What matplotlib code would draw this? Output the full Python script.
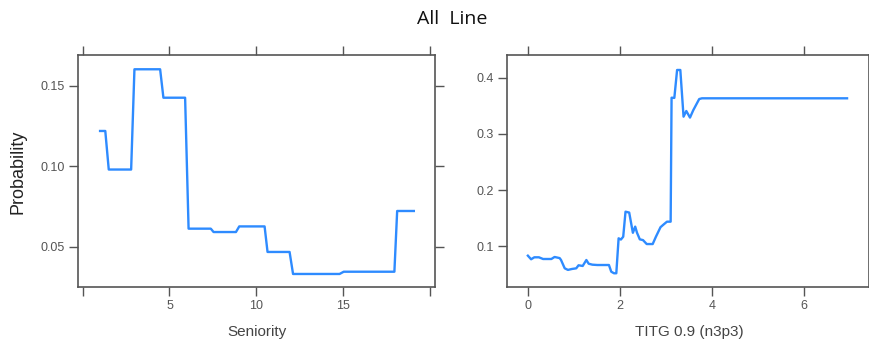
import matplotlib
matplotlib.use("Agg")
import matplotlib.pyplot as plt

# Seniority partial dependence
seniority = [1.0, 1.3, 1.5, 2.79, 2.98, 4.46, 4.65, 5.9, 6.1, 7.38, 7.54,
             8.83, 9.02, 10.48, 10.65, 11.92, 12.12, 14.8, 15.04, 17.96, 18.12, 19.08]
prob_sen = [0.122, 0.122, 0.098, 0.098, 0.1604, 0.1604, 0.1427, 0.1427, 0.0612, 0.0612, 0.0591,
            0.0591, 0.0626, 0.0626, 0.0467, 0.0467, 0.033, 0.033, 0.0344, 0.0344, 0.0722, 0.0722]

# TITG 0.9 (n3p3) partial dependence
titg = [0.0, 0.07, 0.14, 0.24, 0.33, 0.51, 0.58, 0.69, 0.72, 0.8, 0.87, 0.96, 1.05, 1.1,
        1.19, 1.27, 1.32, 1.4, 1.51, 1.76, 1.81, 1.87, 1.92, 1.97, 2.02, 2.07, 2.12, 2.2,
        2.28, 2.33, 2.37, 2.43, 2.5, 2.58, 2.71, 2.78, 2.88, 2.95, 3.02, 3.1, 3.12, 3.18,
        3.24, 3.31, 3.38, 3.44, 3.52, 3.59, 3.72, 3.78, 6.93]
prob_titg = [0.0833, 0.0769, 0.0804, 0.0804, 0.0774, 0.0774, 0.081, 0.079, 0.0756, 0.0608,
             0.058, 0.0597, 0.0608, 0.0662, 0.065, 0.0756, 0.069, 0.0673, 0.0667, 0.0667,
             0.0548, 0.052, 0.052, 0.1142, 0.112, 0.117, 0.1616, 0.160, 0.124, 0.135, 0.124,
             0.1124, 0.111, 0.104, 0.104, 0.117, 0.134, 0.139, 0.1438, 0.1438, 0.3644, 0.364,
             0.4137, 0.4137, 0.3306, 0.3407, 0.329, 0.342, 0.362, 0.3633, 0.3633]

FRAME = "#555555"
LINE = "#2e8bff"

fig = plt.figure(figsize=(8.7, 3.41), dpi=100)
ax1 = fig.add_axes([0.0897, 0.1584, 0.4103, 0.6804])
ax2 = fig.add_axes([0.5824, 0.1584, 0.4161, 0.6804])

for ax in (ax1, ax2):
    for s in ax.spines.values():
        s.set_color(FRAME)
        s.set_linewidth(1.2)
    ax.tick_params(direction="out", length=6.5, width=1, color=FRAME, pad=3,
                   labelsize=9, labelcolor="#555555",
                   top=True, right=True, labeltop=False, labelright=False)
    for lab in ax.get_xticklabels() + ax.get_yticklabels():
        lab.set_family("Liberation Sans")

ax1.plot(seniority, prob_sen, color=LINE, lw=1.7)
ax1.set_xlim(-0.27, 20.3)
ax1.set_ylim(0.0249, 0.1693)
ax1.set_xticks([0, 5, 10, 15, 20])
ax1.set_xticklabels(["", "5", "10", "15", ""], family="Liberation Sans")
ax1.set_yticks([0.05, 0.10, 0.15])
ax1.set_yticklabels(["0.05", "0.10", "0.15"], family="Liberation Sans")

ax2.plot(titg, prob_titg, color=LINE, lw=1.7)
ax2.set_xlim(-0.46, 7.4)
ax2.set_ylim(0.0276, 0.4404)
ax2.set_xticks([0, 2, 4, 6])
ax2.set_xticklabels(["0", "2", "4", "6"], family="Liberation Sans")
ax2.set_yticks([0.1, 0.2, 0.3, 0.4])
ax2.set_yticklabels(["0.1", "0.2", "0.3", "0.4"], family="Liberation Sans")

fig.text(0.5195, 0.944, "All  Line", ha="center", va="center",
         fontsize=14, family="Open Sans", color="#111111")
fig.text(0.0207, 0.497, "Probability", rotation=90, ha="center", va="center",
         fontsize=13, family="Liberation Sans", color="#222222")
fig.text(0.2949, 0.026, "Seniority", ha="center", va="center",
         fontsize=11, family="Liberation Sans", color="#444444")
fig.text(0.7925, 0.026, "TITG 0.9 (n3p3)", ha="center", va="center",
         fontsize=11, family="Liberation Sans", color="#444444")

fig.savefig("out.png", dpi=100)
